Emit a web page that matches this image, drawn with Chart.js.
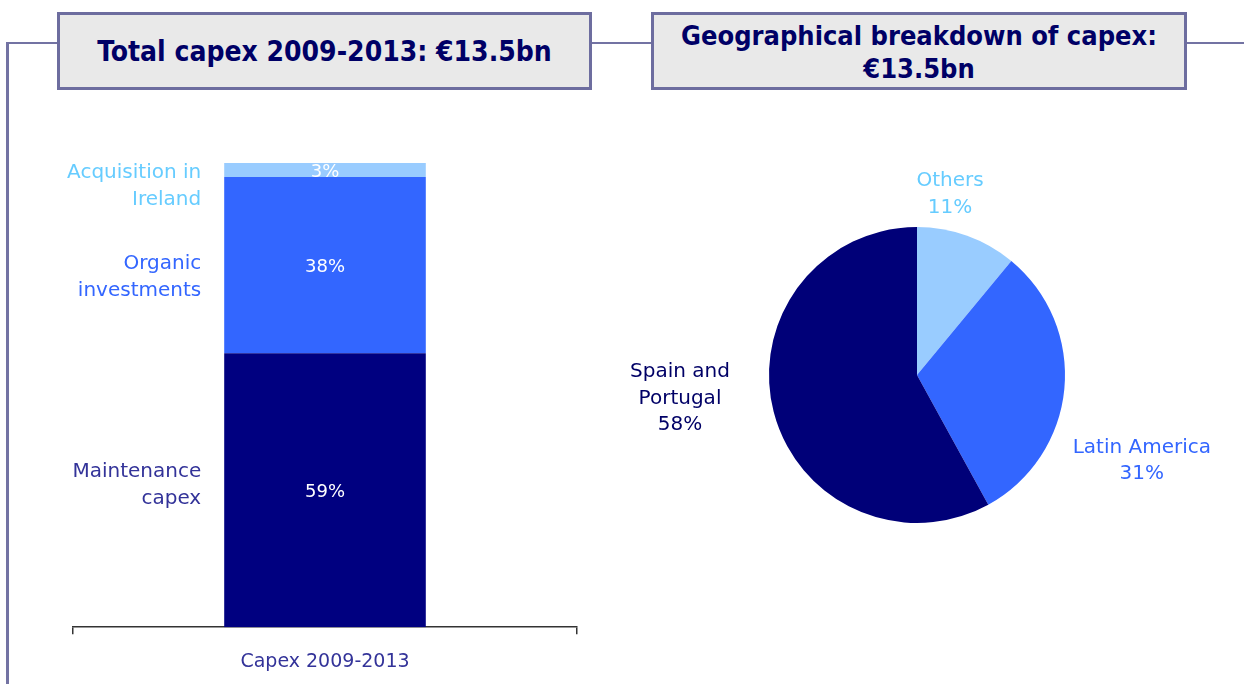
<!DOCTYPE html>
<html>
<head>
<meta charset="utf-8">
<script src="https://cdn.jsdelivr.net/npm/chart.js@4.4.1/dist/chart.umd.min.js"></script>
<style>
  body { margin: 0; width: 1244px; height: 684px; position: relative; background: #fff; overflow: hidden; font-family: "DejaVu Sans", sans-serif; }
  .line { position: absolute; background: #7373a3; }
  .box { position: absolute; box-sizing: border-box; background: #e9e9e9; border: 3px solid #6d6d9f;
         color: #000066; font-family: "DejaVu Sans Condensed", "DejaVu Sans", sans-serif; font-stretch: condensed;
         font-weight: bold; font-size: 28px; line-height: 33px; text-align: center;
         display: flex; align-items: center; justify-content: center; }
  .wrap { position: absolute; }
</style>
</head>
<body>
<div class="line" style="left:6px; top:42px; width:3px; height:642px"></div>
<div class="line" style="left:6px; top:42px; width:53px; height:2px"></div>
<div class="line" style="left:590px; top:42px; width:63px; height:2px"></div>
<div class="line" style="left:1185px; top:42px; width:59px; height:2px"></div>
<div class="box" style="left:57px; top:12px; width:535px; height:78px">Total capex 2009-2013: €13.5bn</div>
<div class="box" style="left:651px; top:12px; width:536px; height:78px; font-size:27px; padding-top:1px">Geographical breakdown of capex:<br>€13.5bn</div>

<div class="wrap" style="left:0; top:100px; width:620px; height:589px"><canvas id="barChart" width="620" height="589"></canvas></div>
<div class="wrap" style="left:620px; top:100px; width:624px; height:584px"><canvas id="pieChart" width="624" height="584"></canvas></div>

<script>
// stacked bar: bottom to top
const barCategory = ['Capex 2009-2013'];
const segmentNames = [['Maintenance', 'capex'], ['Organic', 'investments'], ['Acquisition in', 'Ireland']];
const segmentValues = [59, 38, 3];
const segmentColors = ['#000080', '#3366ff', '#99ccff'];
const segmentTextColors = ['#333399', '#3366ff', '#66ccff'];

// pie, clockwise from 12 o'clock
const regionNames = [['Others'], ['Latin America'], ['Spain and', 'Portugal']];
const regionValues = [11, 31, 58];
const regionColors = ['#99ccff', '#3366ff', '#000078'];
const regionTextColors = ['#66ccff', '#3366ff', '#000066'];

const FONT = '"DejaVu Sans", sans-serif';
Chart.defaults.font.family = FONT;

const barLabels = {
  id: 'barLabels',
  afterDatasetsDraw(chart, args, opts) {
    const ctx = chart.ctx;
    ctx.save();
    ctx.textBaseline = 'middle';
    chart.data.datasets.forEach((ds, i) => {
      const bar = chart.getDatasetMeta(i).data[0];
      const top = Math.min(bar.y, bar.base);
      const bottom = Math.max(bar.y, bar.base);
      const mid = (top + bottom) / 2;
      ctx.font = '18px ' + FONT;
      ctx.fillStyle = '#ffffff';
      ctx.textAlign = 'center';
      ctx.fillText(ds.data[0] + '%', bar.x, mid + 2);

      const lines = segmentNames[i];
      const lh = 27;
      const h = lines.length * lh;
      const c = Math.max(mid + opts.shift[i], top + h / 2 - 5);
      ctx.font = '20px ' + FONT;
      ctx.fillStyle = segmentTextColors[i];
      ctx.textAlign = 'right';
      lines.forEach((t, k) => {
        ctx.fillText(t, bar.x - bar.width / 2 - 23, c - h / 2 + lh / 2 + k * lh + 1.5);
      });
    });
    ctx.restore();
  }
};

new Chart(document.getElementById('barChart'), {
  type: 'bar',
  data: {
    labels: barCategory,
    datasets: segmentValues.map((v, i) => ({
      label: segmentNames[i].join(' '),
      data: [v],
      backgroundColor: segmentColors[i],
      borderWidth: 0,
      barPercentage: 0.4,
      categoryPercentage: 1
    }))
  },
  options: {
    responsive: false,
    animation: false,
    layout: { padding: { left: 73, right: 43, top: 63, bottom: 0 } },
    plugins: {
      legend: { display: false },
      tooltip: { enabled: false },
      barLabels: { shift: [-6, 11, 0] }
    },
    scales: {
      x: {
        stacked: true,
        grid: { drawOnChartArea: false, drawTicks: true, tickLength: 7, color: '#333333', lineWidth: 1.5 },
        border: { display: true, color: '#333333', width: 1.5 },
        ticks: { color: '#333399', font: { size: 19 }, padding: 16 }
      },
      y: { stacked: true, display: false, min: 0, max: 100 }
    }
  },
  plugins: [barLabels]
});

const pieLabels = {
  id: 'pieLabels',
  afterDatasetsDraw(chart, args, opts) {
    const ctx = chart.ctx;
    const arc = chart.getDatasetMeta(0).data[0];
    ctx.save();
    ctx.font = '20px ' + FONT;
    ctx.textAlign = 'center';
    ctx.textBaseline = 'middle';
    chart.data.labels.forEach((name, i) => {
      const p = opts.placement[i];
      const a = (p.angle - 90) * Math.PI / 180;
      const cx = arc.x + Math.cos(a) * p.dist;
      const cy = arc.y + Math.sin(a) * p.dist;
      const lines = regionNames[i].concat([chart.data.datasets[0].data[i] + '%']);
      const lh = 26.5;
      ctx.fillStyle = regionTextColors[i];
      lines.forEach((t, k) => {
        ctx.fillText(t, cx, cy - (lines.length - 1) * lh / 2 + k * lh + 1.5);
      });
    });
    ctx.restore();
  }
};

new Chart(document.getElementById('pieChart'), {
  type: 'pie',
  data: {
    labels: regionNames.map(n => n.join(' ')),
    datasets: [{
      data: regionValues,
      backgroundColor: regionColors,
      borderWidth: 0
    }]
  },
  options: {
    responsive: false,
    animation: false,
    radius: 148,
    layout: { padding: { left: 149, right: 179, top: 127, bottom: 161 } },
    plugins: {
      legend: { display: false },
      tooltip: { enabled: false },
      pieLabels: {
        placement: [
          { angle: 10.3, dist: 185 },
          { angle: 110.5, dist: 240 },
          { angle: 264.7, dist: 238 }
        ]
      }
    }
  },
  plugins: [pieLabels]
});
</script>
</body>
</html>
